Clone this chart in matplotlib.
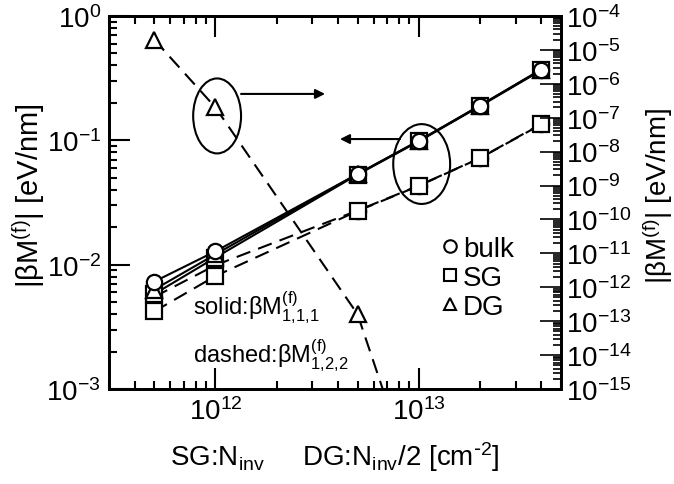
import matplotlib
matplotlib.use("Agg")
import matplotlib.pyplot as plt
import numpy as np
from matplotlib.lines import Line2D
from matplotlib.patches import Ellipse
from matplotlib.ticker import LogLocator, NullFormatter

plt.rcParams["font.family"] = ["Liberation Sans", "DejaVu Sans"]
plt.rcParams["mathtext.default"] = "regular"
plt.rcParams["axes.unicode_minus"] = False

N = np.array([5e11, 1e12, 5e12, 1e13, 2e13, 4e13])  # cm^-2

# solid: |beta M^(f)_111| [eV/nm]
bulk_111 = np.array([0.0073, 0.0128, 0.0535, 0.099, 0.190, 0.370])
sg_111 = np.array([0.0058, 0.0114, 0.0530, 0.098, 0.188, 0.365])
dg_111 = np.array([0.0063, 0.0121, 0.0535, 0.099, 0.190, 0.370])

# dashed: |beta M^(f)_122| [eV/nm]
bulk_122 = np.array([0.0055, 0.0099, 0.0272, 0.0432, 0.0720, 0.135])
sg_122 = np.array([0.0042, 0.0081, 0.0270, 0.0430, 0.0718, 0.134])
N_dg = np.array([5e11, 1e12, 5e12, 1e13])
dg_122 = np.array([2.0e-5, 2.0e-7, 1.6e-13, 7e-19])  # right axis

labels = ["bulk", "SG", "DG"]
markers = ["o", "s", "^"]

LW = 1.5
DASH = (7, 4)
mk = dict(markersize=11, markerfacecolor="white", markeredgecolor="black",
          markeredgewidth=1.6, color="black", lw=LW)

fig = plt.figure(figsize=(6.74, 4.85), dpi=100)
ax = fig.add_axes([0.162, 0.196, 0.670, 0.769])
ax2 = ax.twinx()

for y, m in zip([bulk_122, sg_122], ["o", "s"]):
    ax.plot(N, y, marker=m, dashes=DASH, zorder=2, **mk)
for y, m in zip([sg_111, dg_111, bulk_111], ["s", "^", "o"]):
    ax.plot(N, y, marker=m, zorder=3, **mk)

ax2.plot(N_dg, dg_122, marker="^", dashes=DASH, **mk)

ax.set_xscale("log")
ax.set_yscale("log")
ax2.set_yscale("log")
ax.set_xlim(3e11, 5e13)
ax.set_ylim(1e-3, 1)
ax2.set_ylim(1e-15, 1e-4)

ax.xaxis.set_minor_formatter(NullFormatter())
ax.yaxis.set_minor_locator(LogLocator(base=10, subs=np.arange(2, 10), numticks=50))
ax.yaxis.set_minor_formatter(NullFormatter())
ax2.yaxis.set_major_locator(LogLocator(base=10, numticks=50))
ax2.yaxis.set_minor_locator(LogLocator(base=10, subs=np.arange(2, 10), numticks=200))
ax2.yaxis.set_minor_formatter(NullFormatter())

ax.tick_params(which="both", direction="in", top=True, right=False, width=1.5,
               labelsize=20)
ax.tick_params(which="major", length=15, pad=6)
ax.tick_params(which="minor", length=6)
ax2.tick_params(which="both", direction="in", width=1.2, labelsize=20)
ax2.tick_params(which="major", length=15, pad=4)
ax2.tick_params(which="minor", length=6)
for sp in ax.spines.values():
    sp.set_linewidth(2)
for sp in ax2.spines.values():
    sp.set_linewidth(2)

ax.set_ylabel(r"|βM$^{(f)}$| [eV/nm]", fontsize=21)
ax.yaxis.set_label_coords(-0.137, 0.52)
ax2.set_ylabel(r"|βM$^{(f)}$| [eV/nm]", fontsize=20)
ax2.yaxis.set_label_coords(1.176, 0.52)
ax.set_xlabel(r"SG:N$_{inv}$     DG:N$_{inv}$/2 [cm$^{\text{-}2}$]", fontsize=20)
ax.xaxis.set_label_coords(0.50, -0.134)

ax.text(0.186, 0.201, r"solid:βM$^{(f)}_{1{,}1{,}1}$", transform=ax.transAxes,
        fontsize=17, va="baseline")
ax.text(0.186, 0.072, r"dashed:βM$^{(f)}_{1{,}2{,}2}$", transform=ax.transAxes,
        fontsize=17, va="baseline")

# which axis each group belongs to
ax.add_patch(Ellipse((0.239, 0.732), 0.106, 0.201, transform=ax.transAxes,
                     fill=False, lw=1.5, zorder=5))
ax.add_patch(Ellipse((0.692, 0.603), 0.126, 0.214, transform=ax.transAxes,
                     fill=False, lw=1.5, zorder=5))
arrow = dict(arrowstyle="-|>", color="black", lw=1.5, mutation_scale=14,
             shrinkA=0, shrinkB=0)
ax.annotate("", xy=(0.478, 0.791), xytext=(0.292, 0.791),
            xycoords="axes fraction", arrowprops=arrow)
ax.annotate("", xy=(0.511, 0.670), xytext=(0.644, 0.670),
            xycoords="axes fraction", arrowprops=arrow)

handles = [Line2D([], [], ls="none", marker=m, markersize=9,
                  markerfacecolor="white", markeredgecolor="black",
                  markeredgewidth=1.5) for m in markers]
ax2.legend(handles, labels, loc="upper left", bbox_to_anchor=(0.737, 0.41),
           frameon=False, fontsize=20, handlelength=0.6, handletextpad=0.15,
           borderpad=0, labelspacing=0.1, borderaxespad=0)

fig.savefig("out.png", dpi=100)
